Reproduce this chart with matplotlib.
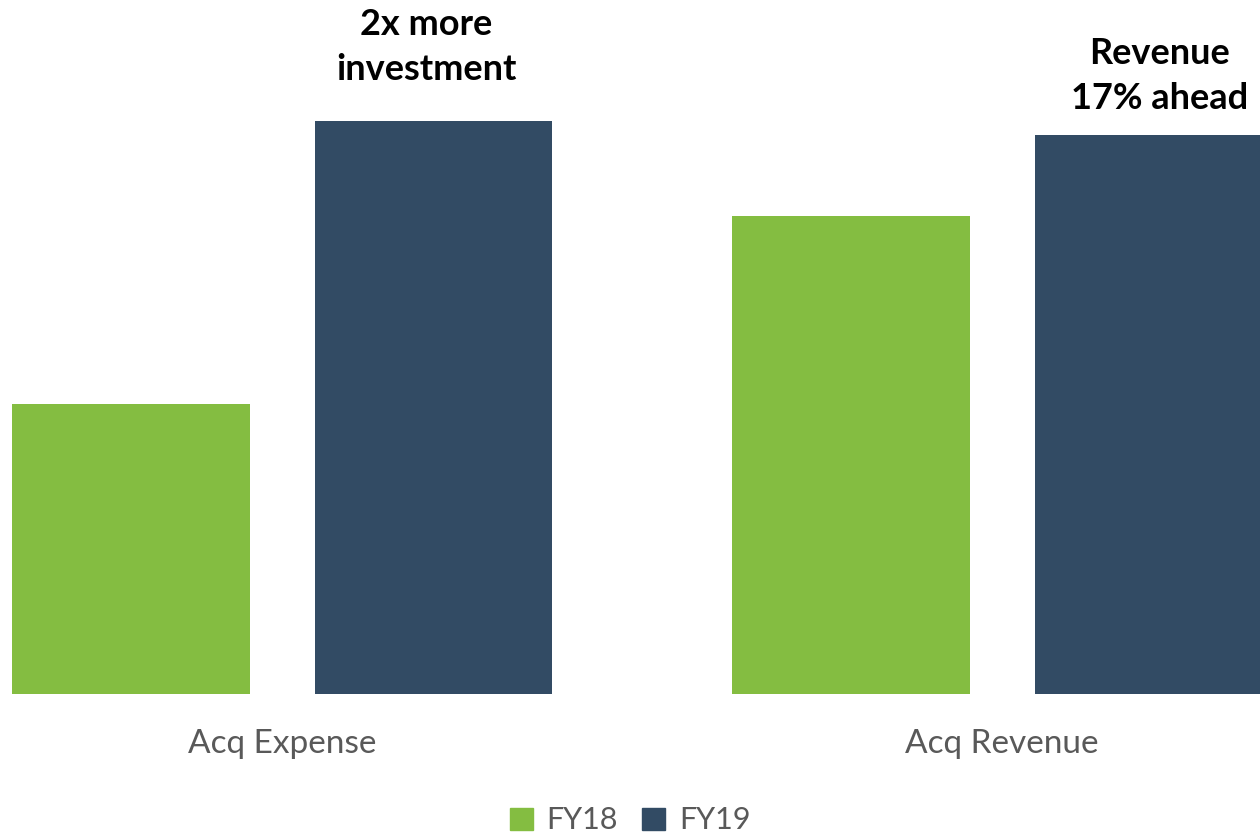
import numpy as np
import matplotlib
matplotlib.use("Agg")
import matplotlib.pyplot as plt
from matplotlib.patches import Patch

# Data (relative heights)
categories = ["Acq Expense", "Acq Revenue"]
fy18 = [290, 478]
fy19 = [573, 559]
series_names = ["FY18", "FY19"]
notes = ["2x more\ninvestment", "Revenue\n17% ahead"]

green = "#84BD41"
navy = "#324B64"
gray = "#595959"

plt.rcParams["font.family"] = ["Lato", "DejaVu Sans"]

fig = plt.figure(figsize=(12.6, 8.32), dpi=100)
ax = fig.add_axes([0, 138 / 832, 1, 694 / 832])

x = np.arange(len(categories))
width = 0.33
offset = 0.21

ax.bar(x - offset, fy18, width, color=green, label=series_names[0])
ax.bar(x + offset, fy19, width, color=navy, label=series_names[1])

ax.set_xlim(-0.392, 1.358)
ax.set_ylim(0, 694)

for s in ax.spines.values():
    s.set_visible(False)
ax.set_yticks([])
ax.set_xticks(x)
ax.set_xticklabels(categories, fontsize=24, color=gray)
ax.tick_params(axis="x", length=0, pad=25)

# annotations over the FY19 bars
ax.text(x[0] + offset - 0.01, fy19[0] + 35, notes[0], ha="center", va="bottom",
        fontsize=26, fontweight="bold", color="black", linespacing=1.43)
ax.text(x[1] + offset + 0.008, fy19[1] + 20, notes[1], ha="center", va="bottom",
        fontsize=26, fontweight="bold", color="black", linespacing=1.43)

handles = [Patch(color=green), Patch(color=navy)]
fig.legend(handles, series_names, loc="lower center", ncol=2, frameon=False,
           fontsize=22, labelcolor=gray, handlelength=0.75, handleheight=0.75,
           handletextpad=0.45, columnspacing=0.8, bbox_to_anchor=(0.5, -0.036))

fig.savefig("out.png", dpi=100)
